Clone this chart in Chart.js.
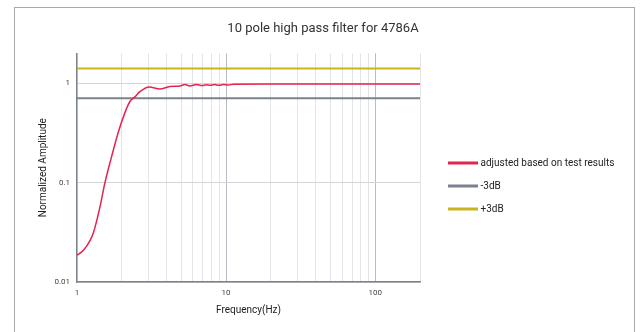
<!DOCTYPE html>
<html><head><meta charset="utf-8">
<script src="https://cdn.jsdelivr.net/npm/chart.js@4/dist/chart.umd.min.js"></script>
<style>html,body{margin:0;padding:0;background:#fff;overflow:hidden}</style>
</head><body>
<canvas id="c" width="640" height="332" style="display:block;width:640px;height:332px"></canvas>
<script>
// ---- data ----
const chartTitle = '10 pole high pass filter for 4786A';
const freqs = [1, 1.1, 1.22, 1.29, 1.43, 1.54, 1.71, 1.89, 2.1, 2.27, 2.45, 2.63, 3.05, 3.6, 4.2, 4.9, 5.3, 5.7, 6.35, 6.87, 7.4, 7.8, 8.4, 8.9, 9.6, 10.4, 11.2, 20, 50, 100, 200];
const amps  = [0.0186, 0.0208, 0.026, 0.0315, 0.058, 0.1, 0.185, 0.32, 0.51, 0.66, 0.73, 0.82, 0.92, 0.875, 0.93, 0.94, 0.97, 0.94, 0.975, 0.95, 0.965, 0.955, 0.972, 0.955, 0.972, 0.96, 0.98, 0.983, 0.983, 0.983, 0.983];
const refFreqs = [1, 200];
const minus3dB = [0.7079, 0.7079];
const plus3dB = [1.4125, 1.4125];
const seriesNames = ['adjusted based on test results', '-3dB', '+3dB'];
const xTickValues = [1,2,3,4,5,6,7,8,9,10,20,30,40,50,60,70,80,90,100,200];
const xTickLabels = {1:'1', 10:'10', 100:'100'};
const yTickValues = [0.01, 0.1, 1];
const yTickLabels = {0.01:'0.01', 0.1:'0.1', 1:'1'};
const colors = ['#e5234f', '#7b828d', '#c9b420'];

const toPts = (xs, ys) => xs.map((x, i) => ({x, y: ys[i]}));

const frame = {
  id: 'frame',
  beforeDraw(chart) {
    const ctx = chart.ctx;
    ctx.save();
    ctx.fillStyle = '#fff';
    ctx.fillRect(0, 0, chart.width, chart.height);
    ctx.strokeStyle = '#a9a9a9';
    ctx.lineWidth = 1;
    ctx.strokeRect(14.5, 7.5, 620, 340);
    ctx.fillStyle = '#333';
    ctx.font = '13px Roboto';
    ctx.textAlign = 'center';
    ctx.textBaseline = 'middle';
    ctx.fillText(chartTitle, 323, 29);
    ctx.restore();
  }
};

const legend = {
  id: 'customLegend',
  afterDraw(chart) {
    const ctx = chart.ctx;
    const x0 = chart.chartArea.right + 28;
    ctx.save();
    chart.data.datasets.forEach((ds, i) => {
      const y = 163 + i * 23;
      ctx.fillStyle = ds.borderColor;
      ctx.fillRect(x0, y - 1.5, 30, 3);
      ctx.fillStyle = '#222';
      ctx.font = '10px Roboto';
      ctx.textBaseline = 'middle';
      ctx.textAlign = 'left';
      ctx.fillText(ds.label, x0 + 32.5, y);
    });
    ctx.restore();
  }
};

new Chart(document.getElementById('c'), {
  type: 'line',
  data: {
    datasets: [
      {label: seriesNames[0], data: toPts(freqs, amps), borderColor: colors[0], backgroundColor: colors[0], borderWidth: 1.5, pointRadius: 0, cubicInterpolationMode: 'monotone'},
      {label: seriesNames[1], data: toPts(refFreqs, minus3dB), borderColor: colors[1], backgroundColor: colors[1], borderWidth: 2, pointRadius: 0},
      {label: seriesNames[2], data: toPts(refFreqs, plus3dB), borderColor: colors[2], backgroundColor: colors[2], borderWidth: 2, pointRadius: 0}
    ]
  },
  options: {
    responsive: false,
    animation: false,
    devicePixelRatio: 1,
    layout: {padding: {left: 0, right: 220, top: 53.4, bottom: 0}},
    plugins: {
      legend: {display: false},
      tooltip: {enabled: false},
      title: {display: false}
    },
    scales: {
      x: {
        type: 'logarithmic', min: 1, max: 200,
        afterBuildTicks: s => { s.ticks = xTickValues.map(v => ({value: v})); },
        afterFit: s => { s.height = 50; },
        ticks: {autoSkip: false, maxRotation: 0, padding: 6, color: '#444', font: {family: 'Roboto', size: 8}, callback: v => xTickLabels[v] || ''},
        grid: {drawTicks: false, lineWidth: 1, color: c => (c.tick && (c.tick.value === 10 || c.tick.value === 100)) ? '#b9bdc3' : '#e3e4e6'},
        border: {color: '#7d838b', width: 1.5},
        title: {display: true, text: 'Frequency(Hz)', color: '#222', font: {family: 'Roboto', size: 10}, padding: {top: 0, bottom: 16}}
      },
      y: {
        type: 'logarithmic', min: 0.01, max: 2,
        afterBuildTicks: s => { s.ticks = yTickValues.map(v => ({value: v})); },
        afterFit: s => { s.width = 77; },
        ticks: {padding: 7, color: '#444', font: {family: 'Roboto', size: 8}, callback: v => yTickLabels[v] || ''},
        grid: {drawTicks: false, lineWidth: 1, color: '#d3d5d8'},
        border: {color: '#7d838b', width: 1.5},
        title: {display: true, text: 'Normalized Amplitude', color: '#222', font: {family: 'Roboto', size: 10}, padding: {top: 37, bottom: 0}}
      }
    }
  },
  plugins: [frame, legend]
});
</script>
</body></html>
